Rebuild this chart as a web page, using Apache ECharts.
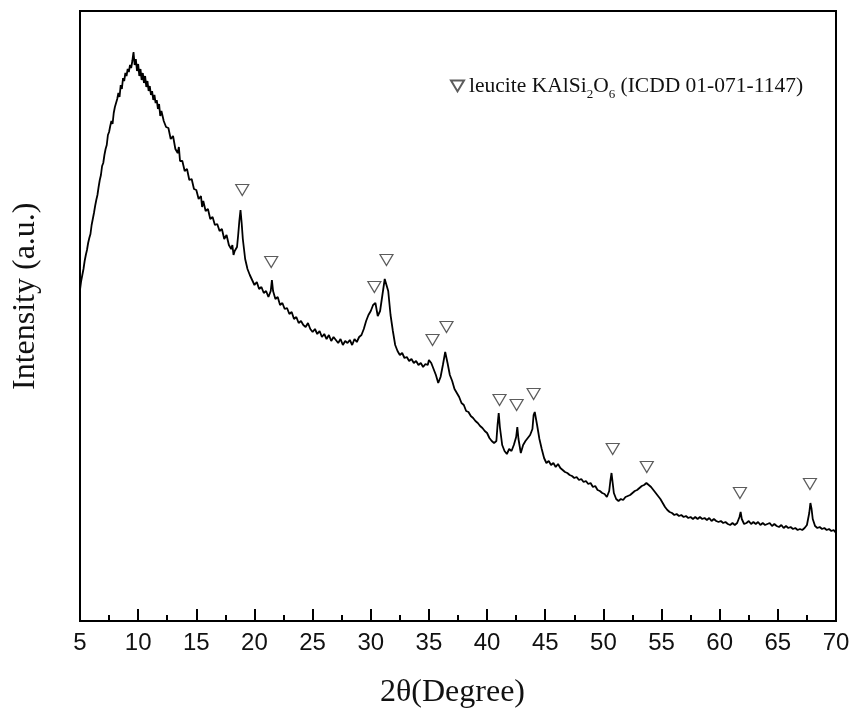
<!DOCTYPE html>
<html>
<head>
<meta charset="utf-8">
<script src="https://cdn.jsdelivr.net/npm/echarts@6/dist/echarts.min.js"></script>
<style>html,body{margin:0;padding:0;background:#fff}#chart{width:854px;height:715px}</style>
</head>
<body>
<div id="chart"></div>
<script>
// XRD pattern: [2theta (deg), intensity (a.u.)]
const xrdPattern = [
[5.0,331],[5.1,340],[5.2,346],[5.3,352],[5.4,360],[5.5,366],[5.6,371],[5.7,378],[5.8,383],[5.9,387],
[6.0,396],[6.1,402],[6.2,408],[6.3,415],[6.4,421],[6.5,426],[6.6,434],[6.7,441],[6.8,446],[6.9,455],
[7.0,458],[7.1,466],[7.2,472],[7.3,476],[7.4,486],[7.5,489],[7.6,495],[7.7,500],[7.8,497],[7.9,508],
[8.0,514],[8.1,512],[8.2,522],[8.3,528],[8.4,524],[8.5,536],[8.6,532],[8.7,543],[8.8,540],[8.9,548],
[9.0,545],[9.1,552],[9.2,549],[9.3,556],[9.4,553],[9.5,560],[9.6,569],[9.7,556],[9.8,562],[9.9,550],
[10.0,557],[10.1,545],[10.2,552],[10.3,541],[10.4,548],[10.5,538],[10.6,545],[10.7,534],[10.8,540],[10.9,530],
[11.0,535],[11.1,526],[11.2,530],[11.3,521],[11.4,526],[11.5,518],[11.6,521],[11.7,512],[11.8,517],[11.9,505],
[12.0,510],[12.2,500],[12.4,494],[12.6,493],[12.8,482],[13.0,485],[13.2,472],[13.4,468],[13.5,474],[13.6,460],
[13.8,460],[14.0,450],[14.2,452],[14.4,441],[14.6,442],[14.8,432],[15.0,431],[15.2,422],[15.4,425],[15.5,414],
[15.6,420],[15.8,410],[16.0,412],[16.2,402],[16.4,404],[16.6,396],[16.8,397],[17.0,390],[17.2,392],[17.4,382],
[17.6,386],[17.8,376],[18.0,372],[18.1,376],[18.2,366],[18.3,370],[18.4,368],[18.5,374],[18.6,386],[18.7,400],
[18.8,411],[18.9,398],[19.0,382],[19.1,372],[19.2,362],[19.4,352],[19.6,346],[19.8,341],[20.0,336],[20.2,339],
[20.4,332],[20.6,334],[20.8,328],[21.0,330],[21.2,324],[21.4,330],[21.5,341],[21.6,330],[21.8,322],[22.0,324],
[22.2,316],[22.4,318],[22.6,312],[22.8,313],[23.0,307],[23.2,309],[23.4,302],[23.6,304],[23.8,298],[24.0,300],
[24.2,296],[24.4,294],[24.6,298],[24.8,292],[25.0,289],[25.2,292],[25.4,287],[25.6,290],[25.8,284],[26.0,287],
[26.2,282],[26.4,286],[26.6,280],[26.8,284],[27.0,281],[27.2,278],[27.4,282],[27.6,276],[27.8,280],[28.0,278],
[28.2,281],[28.4,276],[28.6,282],[28.8,279],[29.0,284],[29.2,286],[29.4,292],[29.6,300],[29.8,306],[30.0,310],
[30.2,316],[30.4,318],[30.6,305],[30.8,310],[31.0,326],[31.2,342],[31.3,344],[31.5,330],[31.7,306],[31.9,290],
[32.1,276],[32.3,270],[32.5,266],[32.7,268],[32.9,263],[33.1,264],[33.3,260],[33.5,262],[33.7,258],[33.9,260],
[34.1,256],[34.3,258],[34.5,254],[34.7,257],[34.9,256],[35.0,261],[35.2,258],[35.4,252],[35.6,246],[35.8,238],
[36.0,244],[36.2,256],[36.4,269],[36.6,258],[36.8,246],[37.0,240],[37.2,232],[37.4,228],[37.6,224],[37.8,218],
[38.0,216],[38.2,210],[38.4,209],[38.6,205],[38.8,203],[39.0,200],[39.2,198],[39.4,195],[39.6,193],[39.8,190],
[40.0,188],[40.2,183],[40.4,180],[40.6,178],[40.8,180],[40.9,196],[41.0,208],[41.1,194],[41.3,176],[41.5,170],
[41.7,167],[41.9,172],[42.1,170],[42.3,176],[42.5,184],[42.6,194],[42.7,182],[42.9,168],[43.1,176],[43.3,180],
[43.5,183],[43.7,186],[43.9,192],[44.0,206],[44.1,209],[44.3,196],[44.5,182],[44.7,172],[44.9,163],[45.1,158],
[45.3,160],[45.5,156],[45.7,158],[45.9,154],[46.1,157],[46.3,153],[46.5,151],[46.7,149],[46.9,148],[47.1,146],
[47.3,145],[47.5,143],[47.7,144],[47.9,141],[48.1,142],[48.3,139],[48.5,140],[48.7,137],[48.9,138],[49.1,134],
[49.3,135],[49.5,131],[49.7,130],[49.9,128],[50.1,127],[50.3,124],[50.5,130],[50.6,140],[50.7,148],[50.8,138],
[50.9,128],[51.1,122],[51.3,120],[51.5,122],[51.7,121],[51.9,124],[52.1,125],[52.3,126],[52.5,128],[52.7,130],
[52.9,131],[53.1,133],[53.3,135],[53.5,136],[53.7,138],[53.9,136],[54.1,134],[54.3,131],[54.5,128],[54.7,125],
[54.9,122],[55.1,118],[55.3,114],[55.5,111],[55.7,109],[55.9,108],[56.1,106],[56.3,107],[56.5,105],[56.7,106],
[56.9,104],[57.1,105],[57.3,103],[57.5,104],[57.7,102],[57.9,104],[58.1,102],[58.3,104],[58.5,102],[58.7,103],
[58.9,101],[59.1,103],[59.3,100],[59.5,102],[59.7,100],[59.9,99],[60.1,100],[60.3,98],[60.5,99],[60.7,97],
[60.9,96],[61.1,98],[61.3,96],[61.5,98],[61.7,104],[61.8,109],[61.9,102],[62.1,97],[62.3,98],[62.5,100],
[62.7,97],[62.9,99],[63.1,97],[63.3,99],[63.5,96],[63.7,98],[63.9,96],[64.1,97],[64.3,98],[64.5,95],
[64.7,97],[64.9,95],[65.1,94],[65.3,96],[65.5,93],[65.7,95],[65.9,93],[66.1,94],[66.3,92],[66.5,93],
[66.7,91],[66.9,92],[67.1,91],[67.3,93],[67.5,96],[67.7,108],[67.8,118],[67.9,112],[68.0,102],[68.2,95],
[68.4,93],[68.6,94],[68.8,92],[69.0,93],[69.2,91],[69.4,92],[69.6,90],[69.8,91],[70.0,88]
];

// leucite reflection markers: 2theta and marker height
const leucitePeaks = [18.95, 21.44, 30.31, 31.35, 35.31, 36.51, 41.07, 42.54, 44.0, 50.8, 53.73, 61.74, 67.76];
const leuciteMarkY = [431, 359, 334, 361, 281, 294, 221, 216, 227, 172, 154, 128, 137];

const xTicks = [5, 10, 15, 20, 25, 30, 35, 40, 45, 50, 55, 60, 65, 70];
const xTitle = '2θ(Degree)';
const yTitle = 'Intensity (a.u.)';
const legendName = 'leucite';

const serif = '"Liberation Serif", "Times New Roman", serif';
const sans = '"Liberation Sans", Arial, sans-serif';
const downTri = 'path://M0,0 L12,0 L6,10 Z';

const chart = echarts.init(document.getElementById('chart'));
chart.setOption({
  animation: false,
  backgroundColor: '#fff',
  grid: { left: 80, right: 18, top: 11, bottom: 94, show: true, borderColor: '#000', borderWidth: 2, backgroundColor: 'transparent' },
  legend: {
    data: [legendName],
    left: 445, top: 69,
    itemWidth: 13, itemHeight: 11, itemGap: 5,
    formatter: () => 'leucite KAlSi{s|2}O{s|6} (ICDD 01-071-1147)',
    textStyle: {
      fontFamily: serif, fontSize: 21.5, color: '#111', lineHeight: 24,
      rich: { s: { fontFamily: serif, fontSize: 13, color: '#111', verticalAlign: 'bottom', lineHeight: 13, padding: [0, 0, -3, 0] } }
    }
  },
  xAxis: {
    type: 'value', min: xTicks[0], max: xTicks[xTicks.length - 1], interval: 5,
    axisLine: { show: true, lineStyle: { color: '#000', width: 2 } },
    axisTick: { show: true, inside: true, length: 12, lineStyle: { color: '#000', width: 2 } },
    minorTick: { show: true, splitNumber: 2, length: 6, lineStyle: { color: '#000', width: 2 } },
    axisLabel: { fontFamily: sans, fontSize: 24, color: '#111', margin: 10 },
    splitLine: { show: false }
  },
  yAxis: {
    type: 'value', min: 0, max: 610,
    axisLine: { show: false }, axisTick: { show: false }, axisLabel: { show: false }, splitLine: { show: false }
  },
  graphic: [
    { type: 'text', top: 677, left: 380, style: { text: xTitle, font: '32px ' + serif, fill: '#111' } },
    { type: 'text', x: 10, y: 390, rotation: Math.PI / 2, style: { text: yTitle, font: '32px ' + serif, fill: '#111', textAlign: 'left', textVerticalAlign: 'top' } }
  ],
  series: [
    {
      type: 'line', data: xrdPattern, showSymbol: false, symbol: 'none',
      lineStyle: { color: '#000', width: 1.8 }, z: 2
    },
    {
      name: legendName, type: 'scatter',
      data: leucitePeaks.map((x, i) => [x, leuciteMarkY[i]]),
      symbol: downTri, symbolSize: [13, 11],
      itemStyle: { color: '#fff', borderColor: '#333', borderWidth: 1.2 }, z: 3
    }
  ]
});
</script>
</body>
</html>
